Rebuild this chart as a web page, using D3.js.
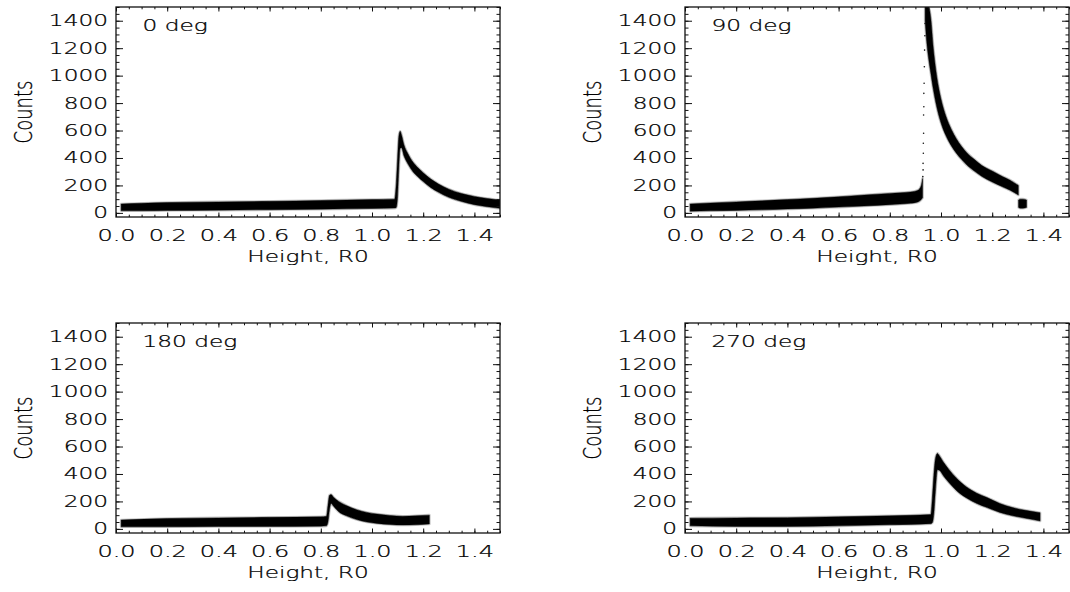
<!DOCTYPE html>
<html><head><meta charset="utf-8">
<script src="https://cdn.jsdelivr.net/npm/d3@7"></script>
<style>
body{margin:0;background:#fff;}
svg{display:block;}
text{font-family:"DejaVu Sans",sans-serif;font-weight:200;fill:#000;stroke:#000;stroke-width:0.25px;}
</style></head><body>
<svg id="chart" width="1070" height="592"></svg>
<script>
// ---------- data ----------
const panelNames = ["0 deg", "90 deg", "180 deg", "270 deg"];
const xTickValues = [0, 0.2, 0.4, 0.6, 0.8, 1.0, 1.2, 1.4];
const xTickLabels = ["0.0", "0.2", "0.4", "0.6", "0.8", "1.0", "1.2", "1.4"];
const yTickValues = [0, 200, 400, 600, 800, 1000, 1200, 1400];
const yTickLabels = ["0", "200", "400", "600", "800", "1000", "1200", "1400"];
const xDomain = [0, 1.5];
const yDomain = [-30, 1500];
const xTitle = "Height, R0";
const yTitle = "Counts";

// band envelopes (lower / upper counts)
const deg0X  = [0.02, 0.1, 0.2, 0.4, 0.6, 0.8, 1.0, 1.088, 1.095, 1.10, 1.105, 1.11, 1.115, 1.125, 1.14, 1.16, 1.18, 1.2, 1.23, 1.26, 1.3, 1.35, 1.4, 1.45, 1.5];
const deg0Lo = [15, 15, 17, 20, 23, 27, 32, 35, 40, 120, 330, 470, 475, 415, 358, 300, 262, 228, 184, 150, 113, 83, 60, 45, 33];
const deg0Hi = [65, 70, 75, 80, 84, 90, 97, 100, 220, 400, 560, 595, 570, 495, 432, 370, 328, 292, 246, 210, 173, 141, 120, 105, 93];

const deg90X  = [0.02, 0.1, 0.2, 0.3, 0.4, 0.5, 0.6, 0.7, 0.8, 0.88, 0.91, 0.922, 0.928, null, 0.938, 0.944, 0.952, 0.96, 0.97, 0.98, 0.99, 1.0, 1.02, 1.04, 1.06, 1.08, 1.1, 1.13, 1.16, 1.2, 1.24, 1.27, 1.302];
const deg90Lo = [12, 15, 18, 22, 28, 34, 42, 50, 60, 70, 80, 95, 110, null, 1400, 1250, 1120, 1020, 900, 800, 720, 655, 560, 490, 435, 390, 350, 305, 265, 225, 190, 165, 130];
const deg90Hi = [65, 72, 80, 88, 97, 106, 117, 130, 142, 152, 165, 195, 250, null, 1500, 1500, 1500, 1420, 1200, 1040, 920, 830, 700, 610, 540, 485, 440, 390, 345, 305, 265, 238, 200];
const deg90EdgeX = [0.929, 0.930, 0.930, 0.931, 0.931, 0.932, 0.932, 0.933, 0.933, 0.934, 0.935, 0.936, 0.937, 0.938];
const deg90EdgeY = [264, 313, 361, 434, 507, 580, 713, 773, 871, 944, 1065, 1186, 1290, 1380];
const deg90BlobX  = [1.303, 1.31, 1.32, 1.334];
const deg90BlobLo = [40, 34, 34, 40];
const deg90BlobHi = [94, 100, 100, 94];

const deg180X  = [0.02, 0.2, 0.4, 0.6, 0.8, 0.822, 0.828, 0.834, 0.84, 0.85, 0.87, 0.9, 0.94, 0.98, 1.02, 1.07, 1.12, 1.17, 1.224];
const deg180Lo = [15, 15, 17, 18, 20, 22, 50, 140, 185, 165, 125, 95, 68, 50, 40, 32, 28, 30, 36];
const deg180Hi = [65, 75, 80, 84, 88, 92, 170, 245, 250, 230, 200, 170, 140, 120, 108, 98, 92, 95, 100];

const deg270X  = [0.02, 0.2, 0.4, 0.6, 0.8, 0.96, 0.966, 0.972, 0.978, 0.986, 0.995, 1.01, 1.03, 1.06, 1.1, 1.14, 1.18, 1.23, 1.28, 1.33, 1.387];
const deg270Lo = [22, 18, 18, 22, 30, 38, 45, 110, 270, 430, 425, 385, 340, 280, 225, 185, 155, 120, 95, 78, 58];
const deg270Hi = [78, 80, 82, 88, 95, 104, 220, 390, 510, 550, 530, 485, 435, 370, 305, 260, 228, 185, 155, 135, 118];

const bands = [
  [{x: deg0X, lo: deg0Lo, hi: deg0Hi}],
  [{x: deg90X, lo: deg90Lo, hi: deg90Hi}, {x: deg90BlobX, lo: deg90BlobLo, hi: deg90BlobHi}],
  [{x: deg180X, lo: deg180Lo, hi: deg180Hi}],
  [{x: deg270X, lo: deg270Lo, hi: deg270Hi}]
];
const dots = [null, {x: deg90EdgeX, y: deg90EdgeY}, null, null];

// ---------- layout ----------
const W = 384, H = 210;
const origins = [[116, 7], [685, 7], [116, 323], [685, 323]];

const svg = d3.select("#chart");
const x = d3.scaleLinear().domain(xDomain).range([0, W]);
const y = d3.scaleLinear().domain(yDomain).range([H, 0]);
const xMinor = d3.range(0, 1.5001, 0.05).map(v => +v.toFixed(2));
const yMinor = d3.range(0, 1500.1, 50);

function stretch(sel, f) {
  sel.each(function () {
    const t = d3.select(this);
    const xx = +(t.attr("x") || 0);
    t.attr("x", xx / f).attr("transform", `scale(${f},1)`);
  });
}

panelNames.forEach((name, i) => {
  const [ox, oy] = origins[i];
  const g = svg.append("g").attr("transform", `translate(${ox},${oy})`);

  g.append("clipPath").attr("id", "clip" + i)
    .append("rect").attr("width", W).attr("height", H);

  const plot = g.append("g").attr("clip-path", `url(#clip${i})`);
  bands[i].forEach(b => {
    const rows = b.x.map((v, k) => ({x: v, lo: b.lo[k], hi: b.hi[k]}));
    const area = d3.area()
      .defined(d => d.x !== null)
      .curve(d3.curveMonotoneX)
      .x(d => x(d.x)).y0(d => y(d.lo)).y1(d => y(d.hi));
    // soft speckled fringe
    plot.append("path").attr("d", area(rows))
      .attr("fill", "none").attr("stroke", "#000")
      .attr("stroke-width", 2.6).attr("stroke-opacity", 0.22)
      .attr("stroke-linejoin", "round");
    plot.append("path").attr("d", area(rows))
      .attr("fill", "#000").attr("stroke", "#000")
      .attr("stroke-width", 0.8).attr("stroke-opacity", 0.6)
      .attr("stroke-linejoin", "round");
  });
  if (dots[i]) {
    plot.selectAll("circle.edge").data(dots[i].x.map((v, k) => [v, dots[i].y[k]]))
      .join("circle").attr("class", "edge")
      .attr("cx", d => x(d[0])).attr("cy", d => y(d[1])).attr("r", 0.8).attr("fill", "#111");
  }

  // axes with inward ticks on all four sides
  const fx = d => xTickLabels[xTickValues.indexOf(d)];
  const fy = d => yTickLabels[yTickValues.indexOf(d)];
  const bottom = g.append("g").attr("transform", `translate(0,${H})`)
    .call(d3.axisBottom(x).tickValues(xTickValues).tickFormat(fx).tickSize(-4.5).tickSizeOuter(0).tickPadding(13));
  g.append("g").attr("transform", `translate(0,${H})`)
    .call(d3.axisBottom(x).tickValues(xMinor).tickFormat("").tickSize(-2.3).tickSizeOuter(0));
  g.append("g").call(d3.axisTop(x).tickValues(xTickValues).tickFormat("").tickSize(-4.5).tickSizeOuter(0));
  g.append("g").call(d3.axisTop(x).tickValues(xMinor).tickFormat("").tickSize(-2.3).tickSizeOuter(0));
  const left = g.append("g")
    .call(d3.axisLeft(y).tickValues(yTickValues).tickFormat(fy).tickSize(-7).tickSizeOuter(0).tickPadding(8));
  g.append("g").call(d3.axisLeft(y).tickValues(yMinor).tickFormat("").tickSize(-3.5).tickSizeOuter(0));
  g.append("g").attr("transform", `translate(${W},0)`)
    .call(d3.axisRight(y).tickValues(yTickValues).tickFormat("").tickSize(-7).tickSizeOuter(0));
  g.append("g").attr("transform", `translate(${W},0)`)
    .call(d3.axisRight(y).tickValues(yMinor).tickFormat("").tickSize(-3.5).tickSizeOuter(0));

  g.selectAll(".domain").remove();
  g.selectAll(".tick line").attr("stroke", "#111").attr("stroke-width", 1);
  g.selectAll(".tick text").attr("font-family", "DejaVu Sans, sans-serif").attr("font-weight", 200)
    .attr("fill", "#000").attr("stroke", "#000").attr("stroke-width", 0.25);

  bottom.selectAll(".tick text").attr("font-size", 16);
  stretch(bottom.selectAll(".tick text"), 1.5);
  left.selectAll(".tick text").attr("font-size", 15.5);
  stretch(left.selectAll(".tick text"), 1.5);

  g.append("rect").attr("width", W).attr("height", H)
    .attr("fill", "none").attr("stroke", "#111").attr("stroke-width", 1.3);

  // panel label
  g.append("g").attr("transform", `translate(26.5,24)`)
    .append("text").attr("font-size", 15).attr("transform", `scale(1.55,1)`).text(name);

  // x title
  g.append("g").attr("transform", `translate(${W / 2},${H + 45})`)
    .append("text").attr("font-size", 16).attr("text-anchor", "middle")
    .attr("transform", `scale(1.45,1)`).text(xTitle);

  // y title
  g.append("g").attr("transform", `translate(${-84},${H / 2}) rotate(-90)`)
    .append("text").attr("font-size", 18).attr("text-anchor", "middle")
    .attr("transform", `scale(1,1.38)`).text(yTitle);
});
</script>
</body></html>
